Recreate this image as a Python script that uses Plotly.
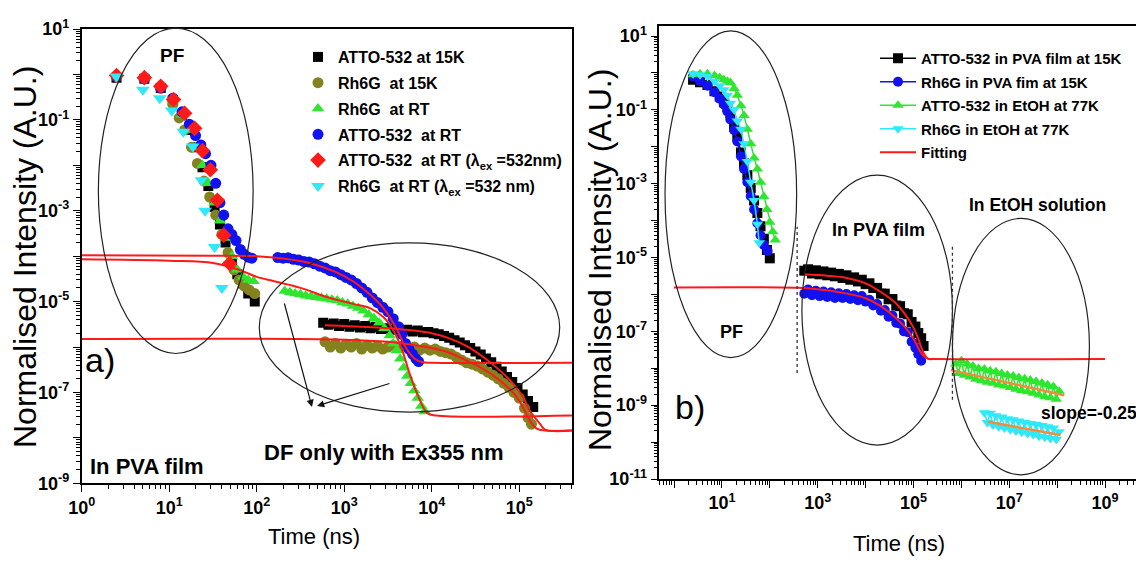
import math
import plotly.graph_objects as go

# ---------------- Panel a) data ----------------
atto15_t = [2.5, 5.2, 8, 11, 14, 17, 20, 24, 28, 33, 38, 44, 52, 60, 70, 80, 95,
            575, 661, 759, 871, 1000, 1148, 1318, 1514, 1738, 1995, 2291, 2630, 3020, 3467, 3981, 4571,
            5248, 6026, 6918, 7943, 9120, 10471, 12023, 13804, 15849, 18197, 20893, 23988, 27542,
            31623, 36308, 41687, 47863, 54954, 63096, 72444, 83176, 95499, 109648, 125893, 144544]
atto15_y = [0.85, 0.8, 0.5, 0.27, 0.13, 0.06, 0.025, 0.009, 0.0035, 0.0012, 5e-4, 2e-4, 8e-5, 4e-5, 2.5e-5, 1.5e-5, 1e-5,
            3.4e-6, 3.1e-6, 3.3e-6, 2.9e-6, 3.2e-6, 2.8e-6, 3.0e-6, 2.7e-6, 2.9e-6, 2.6e-6, 2.8e-6, 2.5e-6, 2.6e-6, 2.4e-6, 2.5e-6, 2.3e-6,
            2.4e-6, 2.2e-6, 2.3e-6, 2.1e-6, 2.15e-6, 2.0e-6, 1.9e-6, 1.75e-6, 1.6e-6, 1.4e-6, 1.25e-6, 1.1e-6, 9.5e-7,
            8.0e-7, 6.8e-7, 5.6e-7, 4.6e-7, 3.7e-7, 2.9e-7, 2.2e-7, 1.7e-7, 1.25e-7, 9.0e-8, 6.5e-8, 4.8e-8]

rh15_t = [2.5, 5.2, 8, 11, 13, 15, 18, 21, 25, 29, 34, 40, 47, 55, 63, 72, 82, 95,
          603, 692, 794, 912, 1047, 1202, 1380, 1585, 1820, 2089, 2399, 2754, 3162, 3631, 4169, 4786,
          5495, 6310, 7244, 8318, 9550, 10965, 12589, 14454, 16596, 19055, 21878, 25119, 28840, 33113,
          38019, 43652, 50119, 57544, 66069, 75858, 87096, 100000, 114815, 125893, 138038]
rh15_y = [0.9, 0.8, 0.5, 0.22, 0.11, 0.06, 0.025, 0.011, 4.5e-3, 2.0e-3, 8e-4, 3e-4, 1.2e-4, 5e-5, 3e-5, 2.2e-5, 1.8e-5, 1.5e-5,
          1.3e-6, 1.0e-6, 1.2e-6, 0.95e-6, 1.15e-6, 1.0e-6, 1.2e-6, 0.9e-6, 1.1e-6, 0.95e-6, 1.05e-6, 0.9e-6, 1.0e-6, 1.1e-6, 0.95e-6, 1.05e-6,
          0.9e-6, 1.0e-6, 0.85e-6, 0.95e-6, 0.85e-6, 0.9e-6, 0.8e-6, 0.75e-6, 0.7e-6, 0.6e-6, 0.52e-6, 0.45e-6, 0.42e-6, 0.38e-6,
          0.33e-6, 0.28e-6, 0.24e-6, 0.2e-6, 0.16e-6, 0.13e-6, 0.1e-6, 0.075e-6, 0.045e-6, 0.028e-6, 0.02e-6]

rhrt_t = [2.5, 5.2, 8, 11, 14, 17, 20, 24, 28, 33, 38, 44, 52, 60, 70, 80, 92,
          209, 240, 275, 316, 363, 417, 479, 550, 631, 724, 832, 955, 1096, 1259, 1445, 1660, 1905,
          2188, 2512, 2884, 3311, 3631, 3981, 4365, 4786, 5248, 5754, 6310, 6918, 7586, 8318]
rhrt_y = [0.95, 0.85, 0.55, 0.28, 0.13, 0.06, 0.025, 0.01, 4e-3, 1.5e-3, 6e-4, 2.5e-4, 1e-4, 5e-5, 3.5e-5, 3e-5, 2.8e-5,
          1.7e-5, 1.6e-5, 1.5e-5, 1.45e-5, 1.35e-5, 1.3e-5, 1.25e-5, 1.2e-5, 1.15e-5, 1.1e-5, 1.05e-5, 9.5e-6, 9.0e-6, 8.0e-6, 7.2e-6, 6.3e-6, 5.2e-6,
          4.3e-6, 3.4e-6, 2.6e-6, 1.8e-6, 1.2e-6, 8.5e-7, 5.5e-7, 3.5e-7, 2.3e-7, 1.6e-7, 1.1e-7, 7.5e-8, 5.0e-8, 3.8e-8]

attort_t = [2.5, 5.2, 8, 11, 14, 17, 20, 23, 26, 30, 34, 38, 42, 47, 52, 58, 65, 72, 80, 88,
            174, 200, 229, 263, 302, 347, 398, 457, 525, 603, 692, 794, 912, 1047, 1202, 1380, 1585, 1820,
            2089, 2399, 2754, 3162, 3631, 4169, 4571, 5012, 5495, 6026, 6607, 7079]
attort_y = [0.9, 0.8, 0.5, 0.3, 0.15, 0.08, 0.045, 0.028, 0.018, 0.01, 4e-3, 1.5e-3, 8e-4, 4e-4, 3e-4, 2.2e-4, 1.4e-4, 1.1e-4, 9.5e-5, 9e-5,
            9.3e-5, 9.0e-5, 9.2e-5, 8.5e-5, 8.2e-5, 7.6e-5, 7.4e-5, 6.8e-5, 6.0e-5, 5.5e-5, 4.8e-5, 4.5e-5, 3.9e-5, 3.4e-5, 3.0e-5, 2.5e-5, 2.0e-5, 1.6e-5,
            1.2e-5, 9.5e-6, 7.5e-6, 6.0e-6, 4.2e-6, 2.8e-6, 1.9e-6, 1.2e-6, 9e-7, 7e-7, 5.5e-7, 4.8e-7]

atto532_t = [2.5, 5.2, 8, 11.2, 15, 19.5, 24, 29.5, 35.5, 42, 49]
atto532_y = [0.95, 0.85, 0.55, 0.28, 0.14, 0.065, 0.021, 8e-3, 1.7e-3, 2.9e-4, 6.9e-5]

rh532_t = [2.5, 5.0, 7.8, 10.7, 14.5, 18.6, 23.4, 25.7, 33, 40]
rh532_y = [0.9, 0.46, 0.3, 0.16, 0.055, 0.026, 4.7e-3, 1.0e-3, 1.6e-4, 2.0e-5]

# fits, panel a)
fit_blue_t = [1, 31.6, 100, 200, 398, 794, 1259, 1995, 2818, 3981, 5012, 6310, 7943, 10000, 400000]
fit_blue_y = [1.05e-4, 1.02e-4, 1.0e-4, 8.9e-5, 7.1e-5, 4.5e-5, 2.8e-5, 1.4e-5, 7.1e-6, 2.5e-6, 1.0e-6, 5.6e-7, 4.6e-7, 4.5e-7, 4.5e-7]
fit_green_t = [1, 10, 31.6, 63, 100, 158, 316, 631, 1259, 1995, 2818, 3548, 4467, 5623, 7079, 8913, 11220, 400000]
fit_green_y = [8.5e-5, 7.9e-5, 7.1e-5, 5.0e-5, 3.5e-5, 2.8e-5, 2.0e-5, 1.26e-5, 8.9e-6, 7.1e-6, 4.5e-6, 2.5e-6, 1.0e-6, 2.5e-7, 7.9e-8, 3.5e-8, 3.1e-8, 3.1e-8]
fit_olive_t = [1, 1000, 3162, 6310, 10000, 15849, 25119, 39811, 63096, 89125, 112202, 131826, 158489, 199526, 400000]
fit_olive_y = [1.5e-6, 1.45e-6, 1.3e-6, 1.1e-6, 9.5e-7, 7.5e-7, 5.0e-7, 3.2e-7, 1.7e-7, 9.0e-8, 4.5e-8, 2.4e-8, 1.6e-8, 1.45e-8, 1.45e-8]
fit_black_t = [603, 1000, 3162, 6310, 10000, 15849, 25119, 39811, 63096, 89125, 112202, 131826, 173780, 199526, 400000]
fit_black_y = [3.0e-6, 2.9e-6, 2.6e-6, 2.3e-6, 2.0e-6, 1.55e-6, 1.05e-6, 5.8e-7, 2.8e-7, 1.4e-7, 7.5e-8, 4.0e-8, 2.0e-8, 1.5e-8, 1.45e-8]

# ---------------- Panel b) data ----------------
b_atto_pva_pf_t = [2.5, 3.5, 5, 7, 9, 11, 13, 15, 18, 21, 25, 29, 34, 40, 47, 55, 64, 75, 87, 100]
b_atto_pva_pf_y = [0.65, 0.56, 0.47, 0.32, 0.23, 0.16, 0.12, 0.08, 0.035, 0.019, 7e-3, 3.5e-3, 1.7e-3, 7.6e-4, 3.5e-4, 1.6e-4, 7e-5, 3.2e-5, 1.6e-5, 9.5e-6]
b_atto_pva_df_t = [525, 631, 759, 912, 1096, 1318, 1585, 1905, 2291, 2754, 3311, 3981, 4786, 5754, 6918, 8318,
                   10000, 12023, 14454, 17378, 20893, 25119, 30200, 36308, 43652, 52481, 63096, 75858, 91201,
                   109648, 125893, 144544, 162181]
b_atto_pva_df_y = [4.4e-6, 4.8e-6, 3.7e-6, 4.5e-6, 3.5e-6, 4.2e-6, 3.3e-6, 3.9e-6, 3.1e-6, 3.6e-6, 2.8e-6, 3.3e-6, 2.5e-6, 2.9e-6, 2.25e-6, 2.5e-6,
                   1.9e-6, 2.0e-6, 1.5e-6, 1.5e-6, 1.05e-6, 1.05e-6, 7.4e-7, 7.5e-7, 5.0e-7, 4.8e-7, 3.1e-7, 2.9e-7, 1.8e-7,
                   1.35e-7, 9.0e-8, 6.5e-8, 4.0e-8]

b_rh_pva_pf_t = [2.5, 3.5, 5, 7, 9, 11, 13, 15, 18, 21, 25, 29, 34, 40, 47, 55, 64, 75, 90]
b_rh_pva_pf_y = [0.8, 0.6, 0.45, 0.3, 0.2, 0.14, 0.09, 0.055, 0.028, 0.014, 5.5e-3, 2.5e-3, 1.1e-3, 4.6e-4, 2e-4, 8.5e-5, 4e-5, 2.2e-5, 1.5e-5]
b_rh_pva_df_t = [525, 631, 759, 912, 1096, 1318, 1585, 1905, 2291, 2754, 3311, 3981, 4786, 5754, 6918, 8318,
                 10000, 12023, 14454, 17378, 20893, 25119, 30200, 36308, 43652, 52481, 63096, 75858, 91201,
                 109648, 125893, 144544]
b_rh_pva_df_y = [1.05e-6, 1.35e-6, 0.95e-6, 1.25e-6, 0.9e-6, 1.2e-6, 0.85e-6, 1.15e-6, 0.8e-6, 1.08e-6, 0.8e-6, 1.02e-6, 0.75e-6, 0.95e-6, 0.7e-6, 0.9e-6,
                 6.4e-7, 7.2e-7, 5.0e-7, 5.5e-7, 3.6e-7, 3.8e-7, 2.5e-7, 2.7e-7, 1.7e-7, 1.6e-7, 1.0e-7, 9.5e-8, 5.2e-8,
                 3.6e-8, 2.4e-8, 1.6e-8]

b_atto_etoh_pf_t = [2.5, 3.5, 5, 7, 9, 11, 13, 15, 18, 21, 25, 29, 34, 40, 47, 55, 64, 75, 87, 100, 115, 130]
b_atto_etoh_pf_y = [0.9, 0.95, 0.95, 0.85, 0.75, 0.65, 0.6, 0.55, 0.38, 0.25, 0.13, 0.07, 0.03, 0.012, 5e-3, 2.5e-3, 1.1e-3, 4.5e-4, 2e-4, 9e-5, 5e-5, 3e-5]
b_atto_etoh_df_t = [7.6e5, 8.7e5, 1.0e6, 1.15e6, 1.32e6, 1.51e6, 1.74e6, 2.0e6, 2.29e6, 2.63e6, 3.02e6, 3.47e6, 3.98e6,
                    4.57e6, 5.25e6, 6.03e6, 6.92e6, 7.94e6, 9.12e6, 1.05e7, 1.2e7, 1.38e7, 1.58e7, 1.82e7, 2.09e7,
                    2.4e7, 2.75e7, 3.16e7, 3.63e7, 4.17e7, 4.79e7, 5.5e7, 6.31e7, 7.24e7, 8.32e7, 9.55e7, 1.1e8]
b_atto_etoh_df_y = [1.3e-8, 7.2e-9, 1.6e-8, 6.5e-9, 1.3e-8, 5.8e-9, 1.15e-8, 5.0e-9, 9.8e-9, 4.6e-9, 9.5e-9, 4.2e-9, 8.5e-9,
                    3.9e-9, 8.0e-9, 3.5e-9, 7.2e-9, 3.3e-9, 6.6e-9, 3.0e-9, 6.2e-9, 2.7e-9, 5.6e-9, 2.5e-9, 5.2e-9,
                    2.3e-9, 4.8e-9, 2.1e-9, 4.4e-9, 1.9e-9, 4.0e-9, 1.7e-9, 3.6e-9, 1.6e-9, 3.2e-9, 1.45e-9, 2.4e-9]

b_rh_etoh_pf_t = [2.5, 3.5, 5, 7, 9, 11, 13, 15, 18, 21, 25, 29, 34, 40, 47, 55, 60]
b_rh_etoh_pf_y = [0.95, 0.9, 0.8, 0.6, 0.45, 0.35, 0.25, 0.15, 0.1, 0.05, 0.03, 0.012, 4e-3, 1.1e-3, 3.5e-4, 8e-5, 2.5e-5]
b_rh_etoh_df_t = [3.02e6, 3.47e6, 3.98e6, 4.57e6, 5.25e6, 6.03e6, 6.92e6, 7.94e6, 9.12e6, 1.05e7, 1.2e7, 1.38e7,
                  1.58e7, 1.82e7, 2.09e7, 2.4e7, 2.75e7, 3.16e7, 3.63e7, 4.17e7, 4.79e7, 5.5e7, 6.31e7, 7.24e7,
                  8.32e7, 9.55e7, 1.1e8]
b_rh_etoh_df_y = [6.2e-10, 3.4e-10, 6.0e-10, 2.9e-10, 5.2e-10, 2.6e-10, 4.8e-10, 2.4e-10, 4.3e-10, 2.2e-10, 4.0e-10, 2.0e-10,
                  3.7e-10, 1.85e-10, 3.4e-10, 1.7e-10, 3.2e-10, 1.6e-10, 3.0e-10, 1.45e-10, 2.8e-10, 1.35e-10, 2.6e-10, 1.25e-10,
                  2.4e-10, 1.2e-10, 1.9e-10]

b_fit1_t = [1, 400, 1000, 3162, 10000, 19953, 39811, 63096, 100000, 125893, 158489, 199526, 316228, 1e9]
b_fit1_y = [1.55e-6, 1.51e-6, 1.38e-6, 1.12e-6, 7.9e-7, 5.0e-7, 2.5e-7, 1.41e-7, 6.3e-8, 3.5e-8, 2.2e-8, 1.82e-8, 1.78e-8, 1.78e-8]
b_fit2_t = [525, 1585, 3981, 10000, 19953, 39811, 63096, 100000, 125893, 158489, 199526, 251189]
b_fit2_y = [3.5e-6, 3.2e-6, 2.8e-6, 2.0e-6, 1.2e-6, 6.3e-7, 3.2e-7, 1.26e-7, 6.3e-8, 2.8e-8, 1.82e-8, 1.78e-8]
b_slope_g_t = [6.0e5, 1.4e8]
b_slope_g_y = [8.9e-9, 1.86e-9]
b_slope_c_t = [3.6e6, 1.17e8]
b_slope_c_y = [3.55e-10, 1.55e-10]

# ticks
a_xticks = [1, 10, 100, 1e3, 1e4, 1e5]
a_xlabels = ["10<sup>0</sup>", "10<sup>1</sup>", "10<sup>2</sup>", "10<sup>3</sup>", "10<sup>4</sup>", "10<sup>5</sup>"]
a_yticks = [10.0 ** e for e in range(-9, 2)]
a_ylabels = ["10<sup>%d</sup>" % e if e % 2 else "" for e in range(-9, 2)]
b_xticks = [10.0 ** e for e in range(0, 10)]
b_xlabels = ["10<sup>%d</sup>" % e if e % 2 else "" for e in range(0, 10)]
b_yticks = [10.0 ** e for e in range(-11, 2)]
b_ylabels = ["10<sup>%d</sup>" % e if e % 2 else "" for e in range(-11, 2)]

W, H = 1136, 563
AX_R = [0, 5.603]
AY_R = [-9, 1]
BX_R = [-0.307, 9.645]
BY_R = [-11, 1.28]

BLACK = "#000000"
OLIVE = "#83821f"
GREEN = "#2fe62f"
BLUE = "#1212f0"
RED = "#ff1a1a"
CYAN = "#30e8f8"
ORANGE = "#f08c3c"

fig = go.Figure()

def mk(t, y, name, color, symbol, size, xa, ya, legend, mode="markers", show=True, group=None):
    fig.add_trace(go.Scatter(
        x=t, y=y, name=name, mode=mode, xaxis=xa, yaxis=ya, legend=legend, showlegend=show,
        legendgroup=group or name,
        marker=dict(color=color, symbol=symbol, size=size, line=dict(width=0)),
        line=dict(color=color, width=1.5)))

# panel a) data
mk(atto15_t, atto15_y, "ATTO-532 at 15K", BLACK, "square", 10, "x", "y", "legend")
mk(rh15_t, rh15_y, "Rh6G  at 15K", OLIVE, "circle", 11, "x", "y", "legend")
mk(rhrt_t, rhrt_y, "Rh6G  at RT", GREEN, "triangle-up", 11, "x", "y", "legend")
mk(attort_t, attort_y, "ATTO-532  at RT", BLUE, "circle", 11, "x", "y", "legend")
mk(atto532_t, atto532_y, "ATTO-532  at RT (λ<sub>ex</sub> =532nm)", RED, "diamond", 12, "x", "y", "legend")
mk(rh532_t, rh532_y, "Rh6G  at RT (λ<sub>ex</sub> =532 nm)", CYAN, "triangle-down", 12, "x", "y", "legend")
for ft, fy in [(fit_blue_t, fit_blue_y), (fit_green_t, fit_green_y), (fit_olive_t, fit_olive_y), (fit_black_t, fit_black_y)]:
    fig.add_trace(go.Scatter(x=ft, y=fy, mode="lines", line=dict(color=RED, width=2, shape="spline"),
                             xaxis="x", yaxis="y", showlegend=False, hoverinfo="skip"))

# panel b) data
LM = "lines+markers"
mk(b_atto_pva_pf_t, b_atto_pva_pf_y, "ATTO-532 in PVA film at 15K", BLACK, "square", 10, "x2", "y2", "legend2", LM, True, "g1")
mk(b_atto_pva_df_t, b_atto_pva_df_y, "ATTO-532 in PVA film at 15K", BLACK, "square", 10, "x2", "y2", "legend2", LM, False, "g1")
mk(b_rh_pva_pf_t, b_rh_pva_pf_y, "Rh6G in PVA fim at 15K", BLUE, "circle", 10, "x2", "y2", "legend2", LM, True, "g2")
mk(b_rh_pva_df_t, b_rh_pva_df_y, "Rh6G in PVA fim at 15K", BLUE, "circle", 10, "x2", "y2", "legend2", LM, False, "g2")
mk(b_atto_etoh_pf_t, b_atto_etoh_pf_y, "ATTO-532 in EtOH at 77K", GREEN, "triangle-up", 10, "x2", "y2", "legend2", LM, True, "g3")
mk(b_atto_etoh_df_t, b_atto_etoh_df_y, "ATTO-532 in EtOH at 77K", GREEN, "triangle-up", 10, "x2", "y2", "legend2", LM, False, "g3")
mk(b_rh_etoh_pf_t, b_rh_etoh_pf_y, "Rh6G in EtOH at 77K", CYAN, "triangle-down", 10, "x2", "y2", "legend2", LM, True, "g4")
mk(b_rh_etoh_df_t, b_rh_etoh_df_y, "Rh6G in EtOH at 77K", CYAN, "triangle-down", 10, "x2", "y2", "legend2", LM, False, "g4")
fig.add_trace(go.Scatter(x=b_fit1_t, y=b_fit1_y, mode="lines", name="Fitting", line=dict(color=RED, width=2, shape="spline"),
                         xaxis="x2", yaxis="y2", legend="legend2", legendgroup="g5", showlegend=True))
fig.add_trace(go.Scatter(x=b_fit2_t, y=b_fit2_y, mode="lines", line=dict(color=RED, width=2, shape="spline"),
                         xaxis="x2", yaxis="y2", legendgroup="g5", showlegend=False))
for st, sy in [(b_slope_g_t, b_slope_g_y), (b_slope_c_t, b_slope_c_y)]:
    fig.add_trace(go.Scatter(x=st, y=sy, mode="lines", line=dict(color=ORANGE, width=2.5),
                             xaxis="x2", yaxis="y2", showlegend=False))

# axes
tickfont = dict(family="Liberation Sans, Arial, sans-serif", size=18, color="black", weight="bold")
def axis_common(mirror):
    return dict(type="log", showgrid=False, zeroline=False, showline=True, linecolor="black", linewidth=1.6,
                mirror=mirror, ticks="outside", ticklen=7, tickwidth=1.4, tickcolor="black",
                tickmode="array", tickfont=tickfont, automargin=False,
                minor=dict(ticks="outside", ticklen=4, tickwidth=1, tickcolor="black", dtick="D1", showgrid=False))

ax_dom = [81.7 / W, 572 / W]
ay_dom = [1 - 483.3 / H, 1 - 29 / H]
bx_dom = [659.3 / W, 1.0]
by_dom = [1 - 479 / H, 1 - 25.7 / H]

fig.update_layout(
    width=W, height=H, margin=dict(l=0, r=0, t=0, b=0, autoexpand=False), paper_bgcolor="white", plot_bgcolor="white",
    xaxis=dict(domain=ax_dom, range=AX_R, tickvals=a_xticks, ticktext=a_xlabels, anchor="y", **axis_common(True)),
    yaxis=dict(domain=ay_dom, range=AY_R, tickvals=a_yticks, ticktext=a_ylabels, anchor="x", **axis_common(True)),
    xaxis2=dict(domain=bx_dom, range=BX_R, tickvals=b_xticks, ticktext=b_xlabels, anchor="y2", **axis_common(True)),
    yaxis2=dict(domain=by_dom, range=BY_R, tickvals=b_yticks, ticktext=b_ylabels, anchor="x2", **axis_common(False)),
    legend=dict(x=298 / W, y=1 - 40 / H, xanchor="left", yanchor="top", bgcolor="rgba(0,0,0,0)",
                font=dict(family="Liberation Sans, Arial, sans-serif", size=16, color="black", weight="bold"),
                itemwidth=30, traceorder="grouped", tracegroupgap=2),
    legend2=dict(x=875 / W, y=1 - 42 / H, xanchor="left", yanchor="top", bgcolor="rgba(0,0,0,0)",
                 font=dict(family="Liberation Sans, Arial, sans-serif", size=15, color="black", weight="bold"),
                 itemwidth=36, traceorder="grouped", tracegroupgap=1),
    showlegend=True,
)

# ellipse / guide shapes in data values -> domain fractions
def fx(v, r):
    return (math.log10(v) - r[0]) / (r[1] - r[0])

def ellipse(x0, x1, y0, y1, xr, yr, xa, ya):
    fig.add_shape(type="circle", xref=xa + " domain", yref=ya + " domain",
                  x0=fx(x0, xr), x1=fx(x1, xr), y0=fx(y0, yr), y1=fx(y1, yr),
                  line=dict(color="#222222", width=1.2), layer="above")

ellipse(1.55, 91, 7.2e-7, 10.5, AX_R, AY_R, "x", "y")
ellipse(107, 2.9e5, 3.7e-8, 1.95e-4, AX_R, AY_R, "x", "y")
ellipse(0.65, 363, 1.95e-8, 13.8, BX_R, BY_R, "x2", "y2")
ellipse(468, 6.5e5, 8.3e-11, 1.7e-3, BX_R, BY_R, "x2", "y2")
ellipse(6.5e5, 4.7e8, 1.3e-11, 1.15e-4, BX_R, BY_R, "x2", "y2")

for xv, ylo, yhi in [(372, 7.4e-9, 6.8e-5), (6.5e5, 1.4e-9, 1.95e-5)]:
    fig.add_shape(type="line", xref="x2 domain", yref="y2 domain",
                  x0=fx(xv, BX_R), x1=fx(xv, BX_R), y0=fx(ylo, BY_R), y1=fx(yhi, BY_R),
                  line=dict(color="#333333", width=1.3, dash="dot"))

BOLD = "Liberation Sans, Arial, sans-serif"
def text(s, px, py, size, bold=True, xanchor="center", angle=0, family=BOLD):
    fig.add_annotation(text=s, x=px / W, y=1 - py / H, xref="paper", yref="paper", showarrow=False,
                       xanchor=xanchor, yanchor="middle", textangle=angle,
                       font=dict(family=family, size=size, color="black", weight="bold" if bold else "normal"))

text("PF", 172, 55, 19)
text("a)", 100, 360, 34, bold=False)
text("In PVA film", 88, 466, 22, xanchor="left")
text("DF only with Ex355 nm", 384, 452, 22)
text("In PVA film", 878, 230, 18)
text("In EtOH solution", 1037, 205, 17.5)
text("PF", 731, 332, 18)
text("b)", 690, 407, 34, bold=False)
text("slope=-0.25", 1039, 413, 17.5, xanchor="left")
text("Normalised Intensity (A.U.)", 25, 257, 32, bold=False, angle=-90)
text("Normalised Intensity (A.U.)", 600, 260, 32, bold=False, angle=-90)
text("Time (ns)", 314, 536, 22, bold=False)
text("Time (ns)", 899, 543, 22, bold=False)

for hx, hy, tx, ty in [(312, 407, 284, 302), (317, 406, 391, 383)]:
    fig.add_annotation(x=hx / W, y=1 - hy / H, xref="paper", yref="paper", ax=tx - hx, ay=ty - hy,
                       axref="pixel", ayref="pixel", showarrow=True, arrowhead=2, arrowsize=1.2,
                       arrowwidth=1.2, arrowcolor="#111111", text="")

fig.write_html("out.html", config={"displayModeBar": False},
               post_script="document.body.style.margin='0px';document.body.style.overflow='hidden';")
